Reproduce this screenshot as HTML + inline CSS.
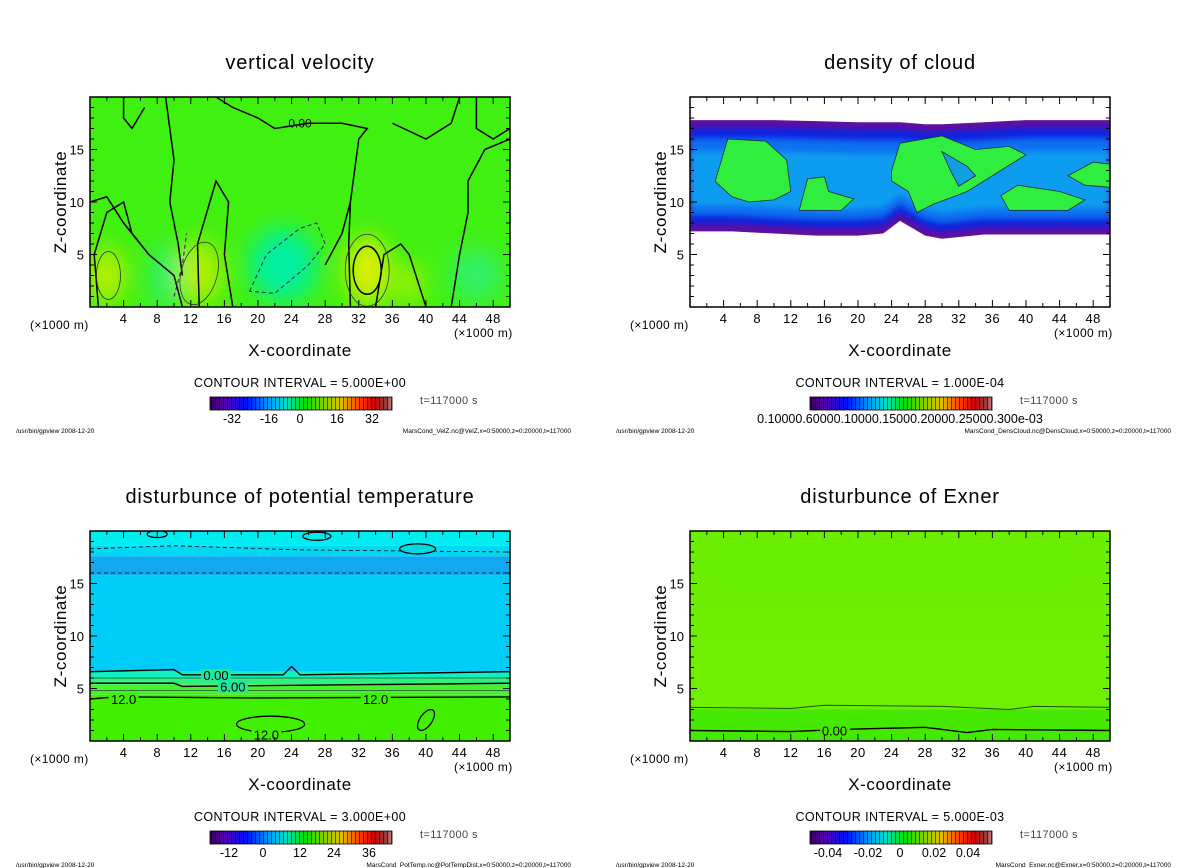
<!DOCTYPE html>
<html><head><meta charset="utf-8">
<style>
html,body{margin:0;padding:0;background:#fff;}
svg{display:block;font-family:"Liberation Sans","DejaVu Sans",sans-serif;}
</style></head>
<body>
<svg id="fig" width="1200" height="868" viewBox="0 0 1200 868" xmlns="http://www.w3.org/2000/svg">
<defs>
<filter id="blur3" x="-50%" y="-50%" width="200%" height="200%"><feGaussianBlur stdDeviation="3"/></filter>
<filter id="blur10" x="-50%" y="-50%" width="200%" height="200%"><feGaussianBlur stdDeviation="12"/></filter>
<linearGradient id="cbar" x1="0" x2="1" y1="0" y2="0">
<stop offset="0" stop-color="#3a0060"/><stop offset="0.08" stop-color="#5000b0"/><stop offset="0.2" stop-color="#0010ff"/>
<stop offset="0.33" stop-color="#00a0ff"/><stop offset="0.42" stop-color="#00e0c0"/><stop offset="0.52" stop-color="#00e000"/>
<stop offset="0.62" stop-color="#80d000"/><stop offset="0.72" stop-color="#e0c000"/><stop offset="0.82" stop-color="#ff4000"/>
<stop offset="0.9" stop-color="#d00000"/><stop offset="0.97" stop-color="#904040"/><stop offset="1" stop-color="#e08080"/>
</linearGradient>
<pattern id="stripes" width="4" height="14" patternUnits="userSpaceOnUse"><rect x="3" width="1" height="14" fill="#000" opacity="0.55"/></pattern>
<clipPath id="clipP"><rect x="90" y="97" width="420" height="210"/></clipPath>
</defs>
</svg>
<script>
// ---- data ----
const xTicks = [4,8,12,16,20,24,28,32,36,40,44,48];
const zTicks = [5,10,15];
const titles = ["vertical velocity","density of cloud","disturbunce of potential temperature","disturbunce of Exner"];
const intervals = ["CONTOUR INTERVAL = 5.000E+00","CONTOUR INTERVAL = 1.000E-04","CONTOUR INTERVAL = 3.000E+00","CONTOUR INTERVAL = 5.000E-03"];
const cbLabels = [["-32","-16","0","16","32"],["0.10000.60000.10000.15000.20000.25000.300e-03"],["-12","0","12","24","36"],["-0.04","-0.02","0","0.02","0.04"]];
const cbLabelX = [[232,269,300,337,372],[300],[229,263,300,334,369],[228,268,300,334,368]];
const files = ["MarsCond_VelZ.nc@VelZ,x=0:50000,z=0:20000,t=117000","MarsCond_DensCloud.nc@DensCloud,x=0:50000,z=0:20000,t=117000","MarsCond_PotTemp.nc@PotTempDist,x=0:50000,z=0:20000,t=117000","MarsCond_Exner.nc@Exner,x=0:50000,z=0:20000,t=117000"];
const velBlobs = [[2,3,2,2.6,"#c8f000"],[13,3.3,2.6,3,"#b8f000"],[33,3.5,2.4,3.2,"#e8f000"],[38,2.2,1.6,2,"#a8f000"],[23,4,4,3.5,"#00f0a0"],[9,3,1.5,3,"#20f080"],[46,3,3,2.5,"#30f070"]];
const cloudX = [0,5,10,15,20,23,25,28,30,35,40,45,50];
const cloudBot = [7.2,7.2,7.0,6.8,6.8,7.0,8.2,6.8,6.5,6.9,6.9,6.9,6.9];
const cloudTop = [17.8,17.8,17.8,17.7,17.6,17.6,17.6,17.4,17.4,17.6,17.8,17.8,17.8];
const cloudGreen = [
 [[3,12],[4.5,16],[9,15.8],[11.5,14],[12,11],[10,10.2],[7,10],[5,10.5],[3.2,11.8]],
 [[13,9.2],[14,12.2],[16,12.4],[16.5,11],[19.5,10.3],[18,9.2]],
 [[24,13],[25,15.6],[30,16.3],[34,15],[38,15.3],[40,14.5],[37,13],[33,11],[29,9.8],[27,9],[26,11],[24,12]],
 [[37,10.6],[39,11.6],[44,11],[47,10.2],[45,9.2],[38,9.2]],
 [[45,12.5],[48,13.8],[50,13.6],[50,11.4],[47,11.6]]
];
const ptLayers = [[0,4.4,"#40f000"],[4.4,5.4,"#48f030"],[5.4,6.0,"#30f080"],[6.0,6.6,"#10f0c0"],[6.6,15.8,"#00ccf8"],[15.8,17.6,"#10a8f0"],[17.6,18.6,"#00d8f4"],[18.6,20,"#00ecf0"]];
const exLayers = [[0,3,"#44e800"],[3,20,"#6ef000"]];

const svg = document.getElementById('fig');
const NS = 'http://www.w3.org/2000/svg';
function mk(tag, attrs, parent){const e=document.createElementNS(NS,tag);for(const k in attrs)e.setAttribute(k,attrs[k]);(parent||svg).appendChild(e);return e;}
function fx(x){return 90 + x*8.4;}
function fz(z){return 307 - z*10.5;}
function pts(arr){return arr.map(p=>fx(p[0])+','+fz(p[1])).join(' ');}

const offs = [[0,0],[600,0],[0,434],[600,434]];
offs.forEach((o,i)=>{
  const g = mk('g',{transform:`translate(${o[0]},${o[1]})`});
  
  
  const t = mk('text',{x:300,y:69,'text-anchor':'middle','font-size':20,'letter-spacing':0.8,fill:'#000'},g);
  t.textContent = titles[i];
  
  
  const plot = mk('g',{'clip-path':'url(#clipP)'},g);
  
  
  if(i===0){
    mk('rect',{x:90,y:97,width:420,height:210,fill:'#40f010'},plot);
    const bl = mk('g',{filter:'url(#blur10)'},plot);
    velBlobs.forEach(b=>{
      const e=mk('ellipse',{cx:fx(b[0]),cy:fz(b[1]),rx:b[2]*8.4,ry:b[3]*10.5,fill:b[4]},bl);
      
      
    });
    const cg = mk('g',{fill:'none',stroke:'#000','stroke-width':1.5},plot);
    [[[1,0],[0.5,5],[2,9],[4,10],[5,7],[7,5],[10,3],[11,0]],
     [[13,0],[12.8,6],[15,12],[16.5,10],[16,5],[17,0]],
     [[31,0],[30.8,6],[31,10],[32,16],[33,17],[30,17.5],[26,17.5],[22,17],[20,18],[17,19],[15,20]],
     [[34,0],[35,5],[37,6],[38,5],[40,0]],
     [[43,0],[44,5],[45,9],[45,12],[47,15],[50,16]],
     [[28,4],[30,7],[31,10]],
     [[36,17.5],[40,16],[43,17.5],[44,20]],
     [[9,20],[9.5,17],[10,14],[9.5,10],[10.5,6],[11,3]],
     [[0,10],[2,10.5],[4,8],[6,6]],
     [[46,20],[46,17],[48,16],[50,17]],
     [[4,20],[4,18],[5,17],[6.5,19]]].forEach(c=>{
      const p=mk('polyline',{points:pts(c)},cg);
      
      
    });
    const dg = mk('g',{fill:'none',stroke:'#226','stroke-width':1,'stroke-dasharray':'4,3'},plot);
    mk('polygon',{points:pts([[19,1.5],[21,5],[25,7.5],[27,8],[28,6],[26,4],[22,1.3]])},dg);
    mk('polyline',{points:pts([[10,1],[11,4],[11.5,7]])},dg);
    mk('ellipse',{cx:fx(33),cy:fz(3.5),rx:14,ry:24,stroke:'#000',fill:'none','stroke-width':1.5},plot);
    mk('ellipse',{cx:fx(33),cy:fz(3.5),rx:22,ry:36,stroke:'#333',fill:'none','stroke-width':0.8},plot);
    mk('ellipse',{cx:fx(13),cy:fz(3.2),rx:18,ry:32,stroke:'#333',fill:'none','stroke-width':0.8,transform:`rotate(15 ${fx(13)} ${fz(3.2)})`},plot);
    mk('ellipse',{cx:fx(2.2),cy:fz(3),rx:12,ry:24,stroke:'#333',fill:'none','stroke-width':0.8},plot);
    const lab=mk('text',{x:fx(25),y:fz(17.1),'font-size':12,'text-anchor':'middle'},plot);lab.textContent='0.00';
  } else if(i===1){
    mk('rect',{x:90,y:97,width:420,height:210,fill:'#fff'},plot);
    const top = cloudX.map((x,k)=>[x,cloudTop[k]]);
    const bot = cloudX.map((x,k)=>[x,cloudBot[k]]).reverse();
    const band = mk('polygon',{points:pts(top.concat(bot)),fill:'#6010a0'},plot);
    
    
    const inner = mk('g',{filter:'url(#blur3)'},plot);
    mk('polygon',{points:pts(cloudX.map((x,k)=>[x,cloudTop[k]-0.7]).concat(cloudX.map((x,k)=>[x,cloudBot[k]+0.7]).reverse())),fill:'#1020e0'},inner);
    mk('polygon',{points:pts(cloudX.map((x,k)=>[x,cloudTop[k]-1.8]).concat(cloudX.map((x,k)=>[x,cloudBot[k]+1.6]).reverse())),fill:'#0870f0'},inner);
    mk('polygon',{points:pts(cloudX.map((x,k)=>[x,cloudTop[k]-3]).concat(cloudX.map((x,k)=>[x,cloudBot[k]+2.5]).reverse())),fill:'#10b0f0',opacity:0.7},inner);
    const gg = mk('g',{},plot);
    cloudGreen.forEach(pg=>{
      const p=mk('polygon',{points:pts(pg),fill:'#30ee40',stroke:'#103030','stroke-width':0.8},gg);
      
      
    });
    mk('polygon',{points:pts([[30,14.8],[33,13.4],[34,12.5],[32,11.5],[31,13]]),fill:'#10a0e0',stroke:'#103030','stroke-width':0.8},gg);
  } else if(i===2){
    ptLayers.forEach(l=>{
      const r=mk('rect',{x:90,y:fz(l[1]),width:420,height:(l[1]-l[0])*10.5,fill:l[2]},plot);
      
      
    });
    const cg = mk('g',{fill:'none',stroke:'#000','stroke-width':1.4},plot);
    [[[0,6.6],[10,6.8],[11,6.3],[23,6.3],[24,7.1],[25,6.3],[50,6.6]],
     [[0,5.5],[10,5.5],[11,5.2],[50,5.5]],
     [[0,4],[3,4.2],[20,4.1],[50,4.2]]].forEach(c=>{
      const p=mk('polyline',{points:pts(c)},cg);
      
      
    });
    mk('polyline',{points:pts([[0,6.0],[50,6.0]]),stroke:'#205030','stroke-width':0.8,fill:'none'},plot);
    mk('polyline',{points:pts([[0,4.8],[50,4.8]]),stroke:'#205030','stroke-width':0.8,fill:'none'},plot);
    mk('polyline',{points:pts([[0,18.3],[10,18.6],[25,18.2],[50,18.0]]),stroke:'#000','stroke-width':0.8,fill:'none','stroke-dasharray':'4,3'},plot);
    mk('polyline',{points:pts([[0,16],[50,16]]),stroke:'#000','stroke-width':0.8,fill:'none','stroke-dasharray':'4,3'},plot);
    mk('ellipse',{cx:fx(21.5),cy:fz(1.6),rx:34,ry:8,fill:'none',stroke:'#000','stroke-width':1.3},plot);
    mk('ellipse',{cx:fx(40),cy:fz(2),rx:6,ry:12,fill:'none',stroke:'#000','stroke-width':1.3,transform:`rotate(35 ${fx(40)} ${fz(2)})`},plot);
    mk('ellipse',{cx:fx(39),cy:fz(18.3),rx:18,ry:5,fill:'#00d8e0',stroke:'#000','stroke-width':1.3},plot);
    mk('ellipse',{cx:fx(27),cy:fz(19.5),rx:14,ry:4,fill:'none',stroke:'#000','stroke-width':1.3},plot);
    mk('ellipse',{cx:fx(8),cy:fz(19.7),rx:10,ry:3.5,fill:'none',stroke:'#000','stroke-width':1.3},plot);
    [['0.00',15,6.3],['6.00',17,5.2],['12.0',4,4.0],['12.0',34,4.0],['12.0',21,0.6]].forEach(a=>{
      mk('rect',{x:fx(a[1])-15,y:fz(a[2])-6,width:30,height:12,fill:a[2]>5?'#20e8a0':'#40f000'},plot);
      const tt=mk('text',{x:fx(a[1]),y:fz(a[2])+5,'font-size':13,'text-anchor':'middle'},plot);tt.textContent=a[0];
    });
  } else {
    exLayers.forEach(l=>{
      const r=mk('rect',{x:90,y:fz(l[1]),width:420,height:(l[1]-l[0])*10.5,fill:l[2]},plot);
      
      
    });
    mk('rect',{x:90,y:fz(20),width:420,height:80,fill:'#60e800',opacity:0.35,filter:'url(#blur10)'},plot);
    mk('polyline',{points:pts([[0,3.2],[12,3.1],[16,3.4],[30,3.3],[38,3.0],[41,3.3],[50,3.2]]),fill:'none',stroke:'#205010','stroke-width':1},plot);
    mk('polyline',{points:pts([[0,1.0],[12,0.9],[18,1.1],[28,1.3],[33,0.8],[36,1.1],[50,1.0]]),fill:'none',stroke:'#000','stroke-width':1.4},plot);
    mk('rect',{x:fx(15.5),y:fz(1)-7,width:30,height:13,fill:'#44e800'},plot);
    const lt=mk('text',{x:fx(17.2),y:fz(1)+5,'font-size':13,'text-anchor':'middle'},plot);lt.textContent='0.00';
  }
  const fr=mk('rect',{x:90,y:97,width:420,height:210,fill:'none',stroke:'#000','stroke-width':1.5},g);
  
  
  for(let x=2;x<50;x+=2){
    const major = xTicks.includes(x);
    const L = major?7:4;
    mk('line',{x1:fx(x),x2:fx(x),y1:307,y2:307-L,stroke:'#000'},g);
    mk('line',{x1:fx(x),x2:fx(x),y1:97,y2:97+L,stroke:'#000'},g);
  }
  for(let z=1;z<20;z++){
    const major = zTicks.includes(z);
    const L = major?7:4;
    mk('line',{x1:90,x2:90+L,y1:fz(z),y2:fz(z),stroke:'#000'},g);
    mk('line',{x1:510,x2:510-L,y1:fz(z),y2:fz(z),stroke:'#000'},g);
  }
  xTicks.forEach(x=>{
    const t=mk('text',{x:fx(x),y:323,'text-anchor':'middle','font-size':13,'letter-spacing':0.5},g);
    t.textContent=x;
    
    
  });
  zTicks.forEach(z=>{
    const t=mk('text',{x:84,y:fz(z)+5,'text-anchor':'end','font-size':13},g);
    t.textContent=z;
    
    
  });
  const u1=mk('text',{x:30,y:329,'font-size':12,'letter-spacing':0.4},g);u1.textContent='(×1000 m)';
  
  
  const u2=mk('text',{x:454,y:337,'font-size':12,'letter-spacing':0.4},g);u2.textContent='(×1000 m)';
  
  
  const xl=mk('text',{x:300,y:356,'text-anchor':'middle','font-size':17,'letter-spacing':0.6},g);xl.textContent='X-coordinate';
  
  
  const yl=mk('text',{x:0,y:0,'text-anchor':'middle','font-size':17,'letter-spacing':0.6,transform:'translate(66,202) rotate(-90)'},g);yl.textContent='Z-coordinate';
  
  
  const ci=mk('text',{x:300,y:387,'text-anchor':'middle','font-size':12.5,'letter-spacing':0.4},g);ci.textContent=intervals[i];
  
  
  const cb=mk('rect',{x:210,y:397,width:182,height:13,fill:'url(#cbar)',stroke:'#000','stroke-width':0.8},g);
  
  
  mk('rect',{x:210,y:397,width:182,height:13,fill:'url(#stripes)'},g);
  cbLabels[i].forEach((s,k)=>{
    const t=mk('text',{x:cbLabelX[i][k],y:423,'text-anchor':'middle','font-size':12.5},g);
    t.textContent=s;
    
    
  });
  const tm=mk('text',{x:420,y:404,'font-size':11,'letter-spacing':0.4,fill:'#444'},g);tm.textContent='t=117000 s';
  
  
  const f1=mk('text',{x:16,y:433,'font-size':6.5,fill:'#000'},g);f1.textContent='/usr/bin/gpview   2008-12-20';
  
  
  const f2=mk('text',{x:571,y:433,'font-size':6.5,'text-anchor':'end',fill:'#000'},g);f2.textContent=files[i];
  
  
});
</script>
</body></html>
